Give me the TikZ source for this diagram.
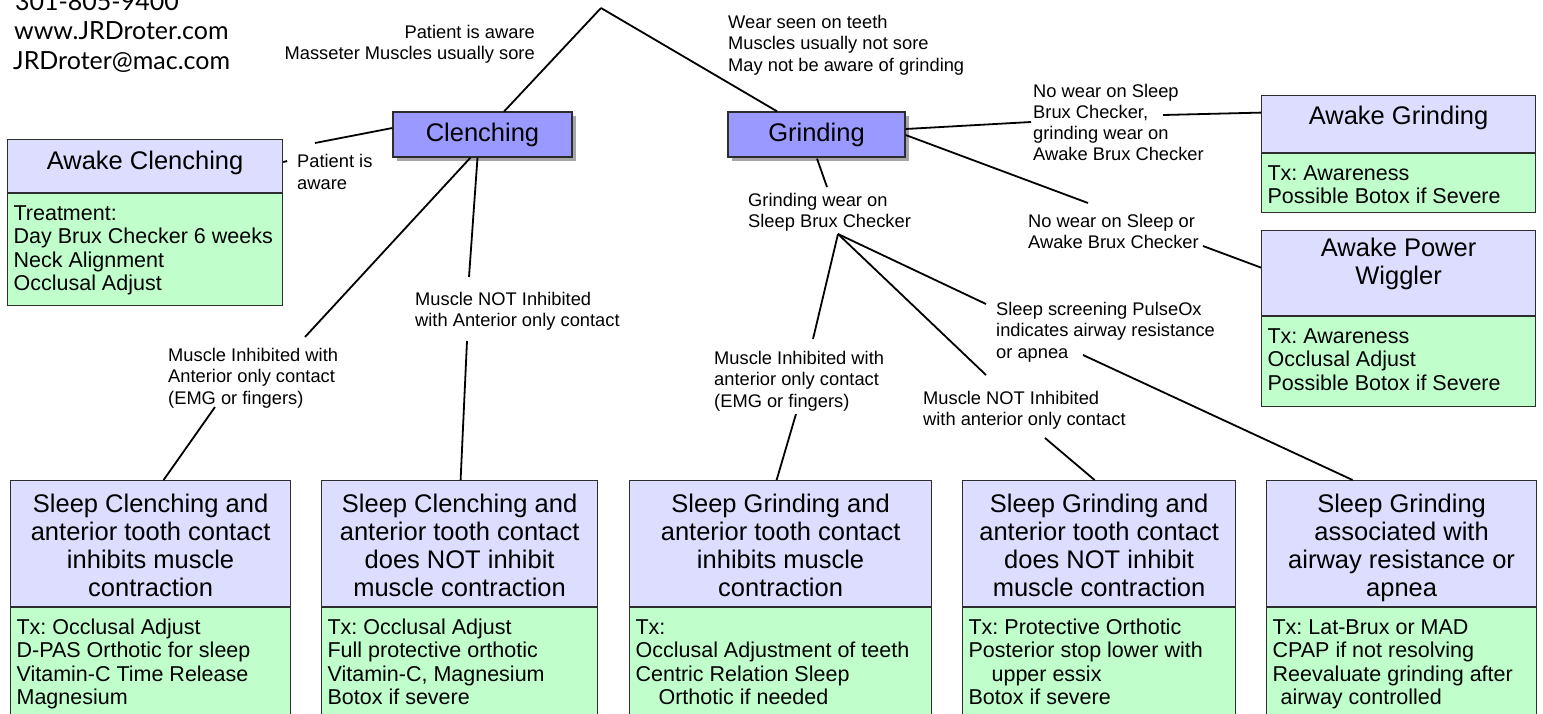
\documentclass[tikz,border=0pt]{standalone}
\usepackage{fontspec}
\setmainfont{Liberation Sans}
\newfontfamily\contactfont{Lato}
\usetikzlibrary{calc,shadows}
\frenchspacing
\definecolor{titlefill}{RGB}{221,221,255}
\definecolor{bodyfill}{RGB}{192,255,204}
\definecolor{mainfill}{RGB}{153,153,255}
\definecolor{edgegray}{RGB}{45,45,45}
\newcommand\ttlfont{\fontsize{25.5}{28}\selectfont}
\newcommand\bdyfont{\fontsize{21.5}{23.5}\selectfont}
\newcommand\lblfont{\fontsize{18.3}{21.3}\selectfont}
\tikzset{
  titlebox/.style={draw=edgegray, line width=1.2pt, fill=titlefill, inner sep=0pt},
  bodybox/.style={draw=edgegray, line width=1.2pt, fill=bodyfill, inner xsep=6pt, inner ysep=0pt},
  mainbox/.style={draw=edgegray, line width=1.2pt, fill=mainfill, minimum height=45pt, inner sep=0pt, font=\ttlfont,
    drop shadow={shadow xshift=4pt, shadow yshift=-4pt, fill=black, opacity=0.35}},
  lbl/.style={font=\lblfont, inner sep=0pt, align=left},
  contact/.style={font=\contactfont\fontsize{25}{30}\selectfont, inner sep=0pt, anchor=base west},
  conn/.style={line width=1.8pt, black}
}
% #1 name, #2 x, #3 y, #4 width, #5 title height, #6 body height, #7 title baseline offset, #8 title, #9 body
\newcommand\twobox[9]{%
  \node[titlebox, anchor=north west] (#1) at (#2,#3)
    {\parbox[c][#5pt][t]{#4pt}{\centering\ttlfont\rule{0pt}{#7pt}#8\par}};
  \node[bodybox, anchor=north west] (#1b) at (#1.south west)
    {\parbox[c][#6pt][t]{\dimexpr#4pt-12pt\relax}{\raggedright\bdyfont\rule{0pt}{26.5pt}#9\par}};
}
\begin{document}
\begin{tikzpicture}[x=1pt,y=-1pt]
\useasboundingbox (0,0) rectangle (1543,713);
\clip (0,0) rectangle (1543,713);
\fill[white] (0,0) rectangle (1543,713);

% contact
\node[contact] (c1) at (15,10) {301-805-9400};
\node[contact] (c2) at (14,39.5) {www.JRDroter.com};
\node[contact] (c3) at (13,69.5) {JRDroter@mac.com};

% main boxes
\node[mainbox, minimum width=179pt] (clench) at (482.5,134.5) {Clenching};
\node[mainbox, minimum width=177pt] (grind) at (816.5,134.5) {Grinding};
\coordinate (apex) at (601,8);

% two-part boxes
\twobox{ac}{7}{139}{275}{53}{112}{30}{Awake Clenching}{Treatment:\\Day Brux Checker 6 weeks\\Neck Alignment\\Occlusal Adjust}
\twobox{ag}{1261}{95}{274}{57}{59}{29}{Awake Grinding}{Tx: Awareness\\Possible Botox if Severe}
\twobox{apw}{1261}{230}{274}{85}{90}{26}{Awake Power\\Wiggler}{Tx: Awareness\\Occlusal Adjust\\Possible Botox if Severe}
\twobox{sc1}{10}{480}{280}{126}{140}{32}{Sleep Clenching and\\anterior tooth contact\\inhibits muscle\\contraction}{Tx: Occlusal Adjust\\D-PAS Orthotic for sleep\\Vitamin-C Time Release\\Magnesium}
\twobox{sc2}{321}{480}{276}{126}{140}{32}{Sleep Clenching and\\anterior tooth contact\\does NOT inhibit\\muscle contraction}{Tx: Occlusal Adjust\\Full protective orthotic\\Vitamin-C, Magnesium\\Botox if severe}
\twobox{sc3}{629}{480}{302}{126}{140}{32}{Sleep Grinding and\\anterior tooth contact\\inhibits muscle\\contraction}{Tx:\\Occlusal Adjustment of teeth\\Centric Relation Sleep\\\hspace*{23pt}Orthotic if needed}
\twobox{sc4}{962}{480}{273}{126}{140}{32}{Sleep Grinding and\\anterior tooth contact\\does NOT inhibit\\muscle contraction}{Tx: Protective Orthotic\\Posterior stop lower with\\\hspace*{23pt}upper essix\\Botox if severe}
\twobox{sc5}{1266}{480}{270}{126}{140}{32}{Sleep Grinding\\associated with\\airway resistance or\\apnea}{Tx: Lat-Brux or MAD\\CPAP if not resolving\\Reevaluate grinding after\\\hspace*{8pt}airway controlled}

% labels
\node[lbl, align=right, anchor=east] (lroot1) at (535,44) {Patient is aware\\Masseter Muscles usually sore};
\node[lbl, anchor=west] (lroot2) at (728,45) {Wear seen on teeth\\Muscles usually not sore\\May not be aware of grinding};
\node[lbl, anchor=west] (lpa) at (297,172) {Patient is\\aware};
\node[lbl, anchor=west] (lmi) at (168,378) {Muscle Inhibited with\\Anterior only contact\\(EMG or fingers)};
\node[lbl, anchor=west] (lmn) at (415,311) {Muscle NOT Inhibited\\with Anterior only contact};
\node[lbl, anchor=west] (lnw1) at (1033,122.5) {No wear on Sleep\\Brux Checker,\\grinding wear on\\Awake Brux Checker};
\node[lbl, anchor=west] (lnw2) at (1028,231.5) {No wear on Sleep or\\Awake Brux Checker};
\node[lbl, anchor=west] (lgw) at (748,212.5) {Grinding wear on\\Sleep Brux Checker};
\node[lbl, anchor=west] (lps) at (996,332) {Sleep screening PulseOx\\indicates airway resistance\\or apnea};
\node[lbl, anchor=west] (lmi2) at (714,381) {Muscle Inhibited with\\anterior only contact\\(EMG or fingers)};
\node[lbl, anchor=west] (lmn2) at (923,410.5) {Muscle NOT Inhibited\\with anterior only contact};

% connectors
\draw[conn] (apex) -- (clench);
\draw[conn] (apex) -- (grind);
\draw[conn] ($(clench.west)+(0,-6.5)$) -- ($(lpa.west)+(18,-29)$);
\draw[conn] ($(lpa.west)+(-10,-11)$) -- ($(ac.east)+(0,-4)$);
\draw[conn] ($(clench.south)+(-12,0)$) -- ($(lmi.west)+(137,-41)$);
\draw[conn] ($(lmi.west)+(47,29)$) -- ($(sc1.north)+(13,0)$);
\draw[conn] ($(clench.south)+(-5,0)$) -- ($(lmn.west)+(54,-34)$);
\draw[conn] ($(lmn.west)+(52,30)$) -- ($(sc2.north)+(1,0)$);
\draw[conn] ($(grind.east)+(0,-5.5)$) -- ($(lnw1.west)+(-2,-0.5)$);
\draw[conn] ($(lnw1.west)+(130,-7.5)$) -- ($(ag.west)+(0,-11.5)$);
\draw[conn] ($(grind.east)+(0,0.5)$) -- ($(lnw2.west)+(60,-28.5)$);
\draw[conn] ($(lnw2.west)+(175,14.5)$) -- ($(apw.west)+(0,-5.5)$);
\draw[conn] ($(grind.south)+(0.5,1)$) -- ($(lgw.west)+(79,-25.5)$);
\coordinate (gj) at ($(lgw.west)+(90,21.5)$);
\draw[conn] (gj) -- ($(lmi2.west)+(99,-42)$);
\draw[conn] ($(lmi2.west)+(82,33)$) -- ($(sc3.north)+(-4,0)$);
\draw[conn] (gj) -- ($(lps.west)+(-10,-28)$);
\draw[conn] ($(lps.west)+(87,23)$) -- ($(sc5.north)+(-49,0)$);
\draw[conn] (gj) -- ($(lmn2.west)+(63,-35.5)$);
\draw[conn] ($(lmn2.west)+(122,27.5)$) -- ($(sc4.north)+(-4.5,0)$);
\end{tikzpicture}
\end{document}
